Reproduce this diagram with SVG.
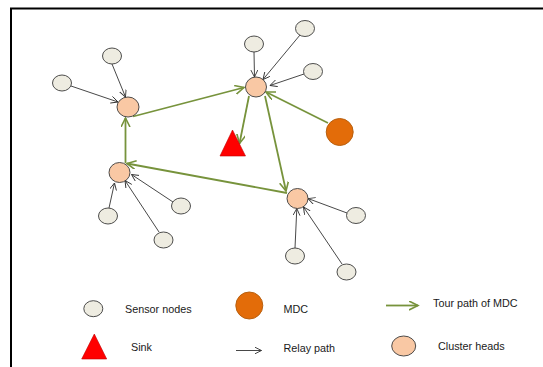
<svg xmlns="http://www.w3.org/2000/svg" width="543" height="367" viewBox="0 0 543 367">
<style>
.sensor{fill:#EEECE1;stroke:#3a3a3a;stroke-width:0.9}
.ch{fill:#F9C8A4;stroke:#3a3a3a;stroke-width:0.9}
.mdc{fill:#E36C09;stroke:#B8600F;stroke-width:1}
.sink{fill:#FF0000;stroke:#C00000;stroke-width:0.6}
.relay{fill:none;stroke:#333;stroke-width:0.9;marker-end:url(#ah)}
.tour{fill:none;stroke:#77933C;stroke-width:1.8;marker-end:url(#gh)}
.lbl{font-family:"Liberation Sans",Arial,sans-serif;font-size:10.8px;fill:#1a1a1a}
</style>
<defs>
<marker id="ah" markerUnits="userSpaceOnUse" markerWidth="10" markerHeight="10" refX="7" refY="3.5" orient="auto">
<path d="M0,0 L7,3.5 L0,7" fill="none" stroke="#333" stroke-width="0.9"/>
</marker>
<marker id="gh" markerUnits="userSpaceOnUse" markerWidth="12" markerHeight="12" refX="9" refY="4.5" orient="auto">
<path d="M0,0 L9,4.5 L0,9" fill="none" stroke="#77933C" stroke-width="1.6"/>
</marker>
</defs>
<rect width="543" height="367" fill="#fff"/>
<path d="M11,367 L11,8.5 L543,8.5" fill="none" stroke="#000" stroke-width="2"/>
<g id="connectors">
<path class="relay" d="M112,64 L125.5,97"/>
<path class="relay" d="M71,86 L118,102"/>
<path class="relay" d="M254,52 L254.5,77"/>
<path class="relay" d="M300,35 L263,79.5"/>
<path class="relay" d="M304,74 L270,85.5"/>
<path class="relay" d="M109,208 L114.5,183"/>
<path class="relay" d="M159,232 L125,180.5"/>
<path class="relay" d="M173,202 L131.5,174.5"/>
<path class="relay" d="M347,213 L308,198.5"/>
<path class="relay" d="M295,248 L296.8,208.5"/>
<path class="relay" d="M342,264 L303.5,207"/>
<path class="tour" d="M125.5,163 L125.5,118"/>
<path class="tour" d="M133,116.5 L244,87.5"/>
<path class="tour" d="M249,96 L239.5,143.5"/>
<path class="tour" d="M328,123 L266,92"/>
<path class="tour" d="M265,96 L286,191"/>
<path class="tour" d="M287,193 L127,163.5"/>
</g>
<g id="s1"><ellipse class="sensor" cx="112" cy="56" rx="9.5" ry="8"/></g>
<g id="s2"><ellipse class="sensor" cx="62" cy="83" rx="9.5" ry="8"/></g>
<g id="s3"><ellipse class="sensor" cx="254" cy="44" rx="9.5" ry="8"/></g>
<g id="s4"><ellipse class="sensor" cx="305" cy="28.5" rx="9.5" ry="8"/></g>
<g id="s5"><ellipse class="sensor" cx="313" cy="71.5" rx="9.5" ry="8"/></g>
<g id="s6"><ellipse class="sensor" cx="108" cy="216" rx="9.5" ry="8"/></g>
<g id="s7"><ellipse class="sensor" cx="163.5" cy="240" rx="9.5" ry="8"/></g>
<g id="s8"><ellipse class="sensor" cx="181" cy="206" rx="9.5" ry="8"/></g>
<g id="s9"><ellipse class="sensor" cx="356" cy="215.5" rx="9.5" ry="8"/></g>
<g id="s10"><ellipse class="sensor" cx="295" cy="256" rx="9.5" ry="8"/></g>
<g id="s11"><ellipse class="sensor" cx="346.5" cy="272" rx="9.5" ry="8"/></g>
<g id="ch1"><ellipse class="ch" cx="128" cy="107" rx="11" ry="10"/></g>
<g id="ch2"><ellipse class="ch" cx="256" cy="87" rx="10.5" ry="10"/></g>
<g id="ch3"><ellipse class="ch" cx="119.5" cy="172.5" rx="10.5" ry="10"/></g>
<g id="ch4"><ellipse class="ch" cx="297.5" cy="198.5" rx="10.5" ry="10"/></g>
<g id="mdc"><circle class="mdc" cx="339.7" cy="132" r="13.5"/></g>
<g id="sink"><polygon class="sink" points="232.5,130 220,156 245.5,156"/></g>
<g id="legend">
<ellipse class="sensor" cx="93.3" cy="308.7" rx="9.5" ry="8"/>
<text class="lbl" x="125" y="313">Sensor nodes</text>
<circle class="mdc" cx="249.3" cy="305.5" r="13.5"/>
<text class="lbl" x="283.5" y="313">MDC</text>
<path class="tour" d="M386,305.5 L418,305.5"/>
<text class="lbl" x="433" y="307">Tour path of MDC</text>
<polygon class="sink" points="94.3,334 81.7,359 106.7,359"/>
<text class="lbl" x="131" y="351">Sink</text>
<path class="relay" d="M236,350.5 L261.5,350.5"/>
<text class="lbl" x="283.5" y="352">Relay path</text>
<ellipse class="ch" cx="403.7" cy="346" rx="12" ry="10"/>
<text class="lbl" x="438" y="350">Cluster heads</text>
</g>
</svg>
